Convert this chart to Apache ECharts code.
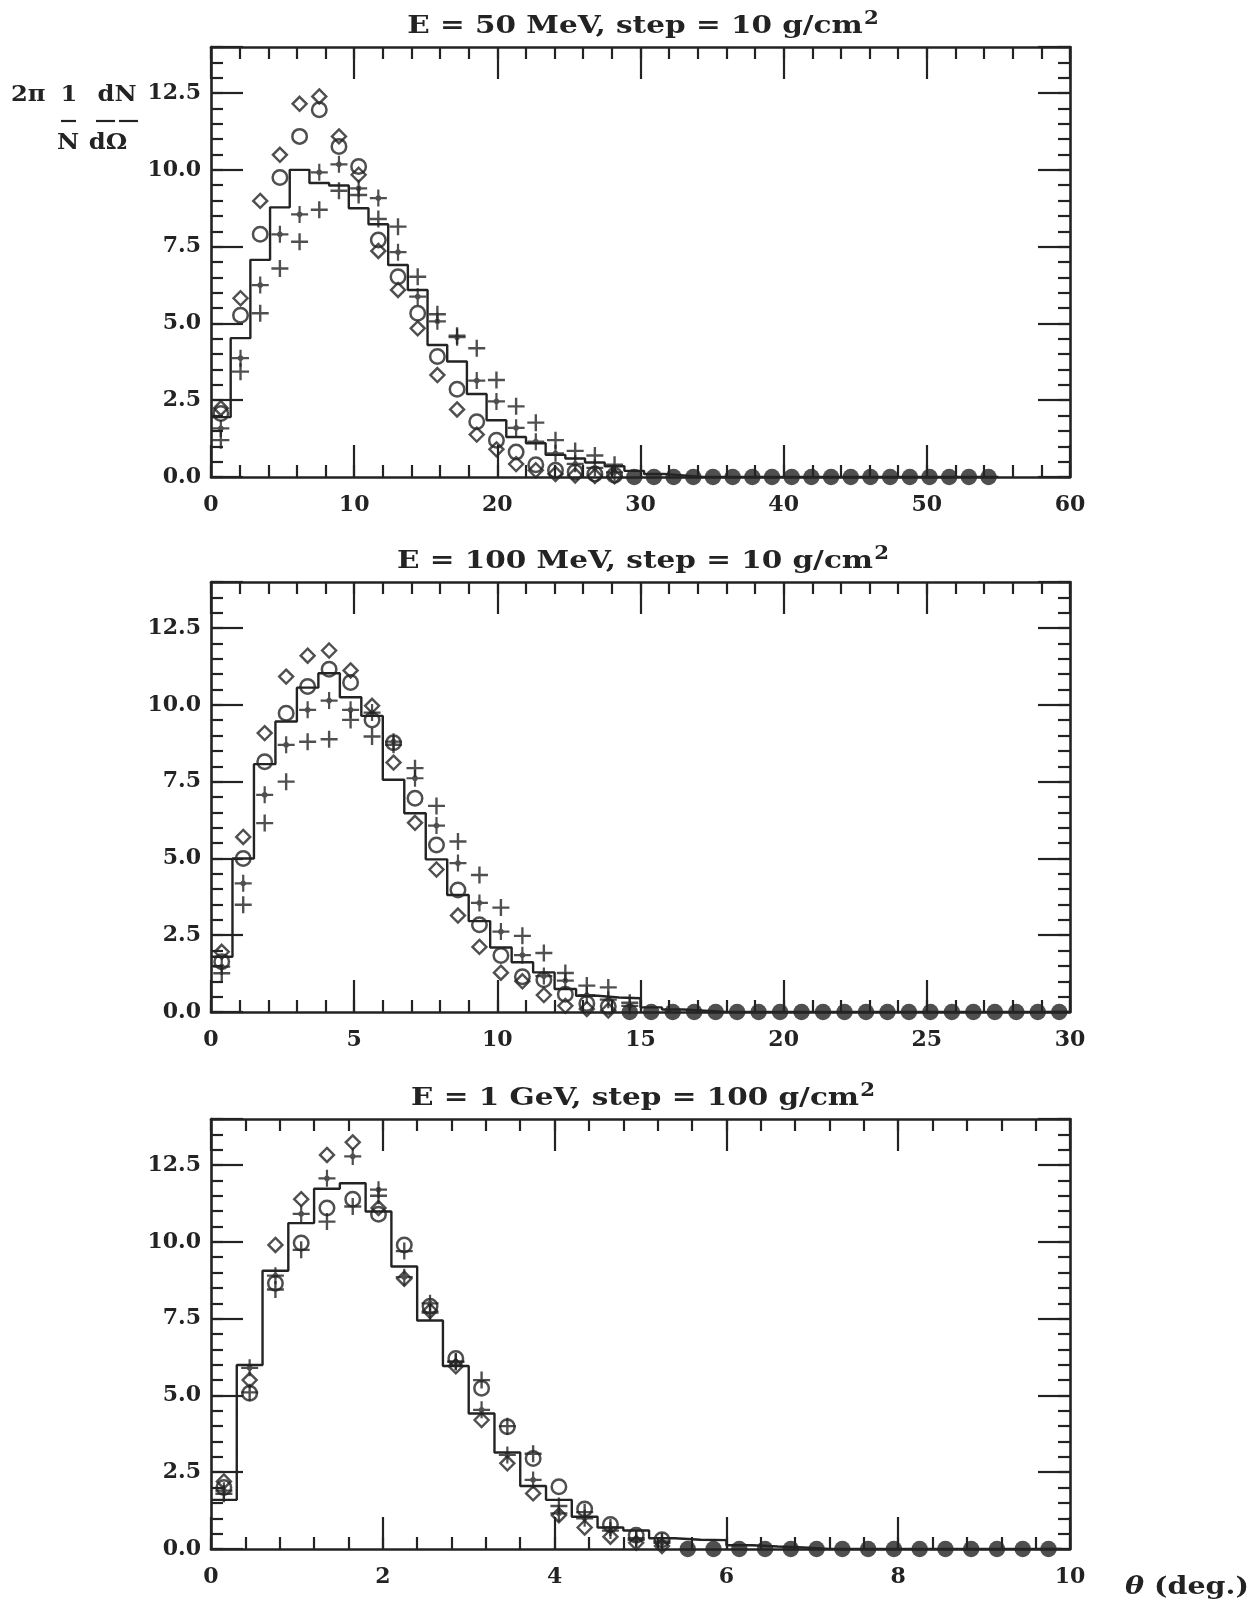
<!DOCTYPE html>
<html>
<head>
<meta charset="utf-8">
<script src="https://cdn.jsdelivr.net/npm/echarts@6/dist/echarts.min.js"></script>
<style>
  html, body { margin: 0; padding: 0; background: #ffffff; }
  #chart { width: 1257px; height: 1605px; }
</style>
</head>
<body>
<div id="chart"></div>
<script>
// Angular distributions 2π (1/N) dN/dΩ versus θ for three beam energies.
// Each panel: histogram (step line) plus four sets of points per angular bin.

const titleText = [
  'E = 50 MeV, step = 10 g/cm',
  'E = 100 MeV, step = 10 g/cm',
  'E = 1 GeV, step = 100 g/cm'
];
const yTickValues = [0, 2.5, 5, 7.5, 10, 12.5];

// ---- E = 50 MeV : bins of 1.375 deg ----
const binWidth50 = 1.375;
const hist50 = [1.95, 4.52, 7.07, 8.78, 10.0, 9.57, 9.49, 8.75, 8.23, 6.90, 6.09, 4.30, 3.76, 2.70, 1.85, 1.30, 1.10, 0.72, 0.60, 0.47,
                0.35, 0.20, 0.10, 0.05, 0, 0, 0, 0, 0, 0, 0, 0, 0, 0, 0, 0, 0, 0, 0, 0];
const circ50 = [2.07, 5.27, 7.90, 9.75, 11.09, 11.96, 10.76, 10.11, 7.72, 6.52, 5.33, 3.92, 2.86, 1.80, 1.20, 0.81, 0.40, 0.22, 0.16, 0.10, 0.06];
const diam50 = [2.24, 5.82, 8.99, 10.49, 12.15, 12.39, 11.09, 9.84, 7.36, 6.09, 4.84, 3.32, 2.20, 1.38, 0.90, 0.42, 0.22, 0.10, 0.05, 0.03, 0.02];
const star50 = [1.58, 3.87, 6.25, 7.90, 8.55, 9.92, 10.18, 9.40, 9.08, 7.32, 5.87, 5.07, 4.55, 3.14, 2.46, 1.60, 1.15, 0.77, 0.43, 0.30, 0.15];
const plus50 = [1.20, 3.43, 5.33, 6.79, 7.66, 8.70, 9.32, 9.18, 8.40, 8.15, 6.52, 5.30, 4.60, 4.19, 3.16, 2.30, 1.77, 1.20, 0.85, 0.70, 0.40];
const tailFrom50 = 21;   // first bin (0-based) where every set sits at zero
const tail50 = [0, 0, 0, 0, 0, 0, 0, 0, 0, 0, 0, 0, 0, 0, 0, 0, 0, 0, 0];

// ---- E = 100 MeV : bins of 0.75 deg ----
const binWidth100 = 0.75;
const hist100 = [1.80, 5.00, 8.07, 9.46, 10.56, 11.03, 10.25, 9.64, 7.56, 6.47, 4.97, 3.81, 2.96, 2.10, 1.62, 1.29, 0.75, 0.53, 0.47, 0.45,
                 0.15, 0.08, 0.04, 0, 0, 0, 0, 0, 0, 0, 0, 0, 0, 0, 0, 0, 0, 0, 0, 0];
const circ100 = [1.64, 5.00, 8.15, 9.73, 10.60, 11.16, 10.73, 9.51, 8.77, 6.96, 5.44, 3.97, 2.84, 1.84, 1.15, 1.05, 0.58, 0.28, 0.18];
const diam100 = [1.96, 5.70, 9.08, 10.92, 11.60, 11.77, 11.12, 9.97, 8.12, 6.16, 4.64, 3.14, 2.12, 1.28, 1.00, 0.55, 0.20, 0.10, 0.05];
const star100 = [1.48, 4.19, 7.07, 8.70, 9.84, 10.14, 9.84, 9.75, 8.80, 7.61, 6.07, 4.85, 3.55, 2.62, 1.85, 1.17, 1.02, 0.55, 0.40, 0.20];
const plus100 = [1.26, 3.49, 6.15, 7.50, 8.80, 8.88, 9.51, 8.97, 8.70, 7.94, 6.71, 5.55, 4.46, 3.40, 2.48, 1.92, 1.27, 0.86, 0.80, 0.30];
const tailFrom100 = 19;
const tail100 = [0, 0, 0, 0, 0, 0, 0, 0, 0, 0, 0, 0, 0, 0, 0, 0, 0, 0, 0, 0, 0];

// ---- E = 1 GeV : bins of 0.3 deg ----
const binWidth1000 = 0.3;
const hist1000 = [1.60, 5.99, 9.06, 10.61, 11.73, 11.91, 10.99, 9.20, 7.44, 5.96, 4.41, 3.14, 2.05, 1.60, 1.05, 0.70, 0.60, 0.35, 0.30, 0.29,
                  0.12, 0.08, 0.05, 0, 0, 0, 0, 0, 0, 0, 0, 0, 0];
const circ1000 = [2.00, 5.07, 8.65, 9.96, 11.10, 11.39, 10.90, 9.90, 7.90, 6.20, 5.23, 3.98, 2.95, 2.03, 1.30, 0.80, 0.45, 0.30];
const diam1000 = [2.20, 5.50, 9.90, 11.39, 12.83, 13.24, 11.10, 8.80, 7.75, 5.95, 4.20, 2.79, 1.81, 1.10, 0.70, 0.40, 0.20, 0.10];
const star1000 = [1.90, 5.90, 8.90, 10.91, 12.07, 12.78, 11.70, 8.85, 8.00, 6.10, 4.53, 3.06, 2.25, 1.16, 1.00, 0.60, 0.30, 0.20];
const plus1000 = [1.80, 5.10, 8.45, 9.74, 10.66, 11.15, 11.50, 9.70, 7.70, 6.10, 5.50, 4.00, 3.10, 1.40, 1.20, 0.70, 0.35, 0.25];
const tailFrom1000 = 18;
const tail1000 = [0, 0, 0, 0, 0, 0, 0, 0, 0, 0, 0, 0, 0, 0, 0];

// ---------------------------------------------------------------------------
const INK = '#232323';
const FONT = '"DejaVu Serif", "Liberation Serif", serif';

const PLUS_PATH = 'path://M-0.14,-1 L0.14,-1 L0.14,-0.14 L1,-0.14 L1,0.14 L0.14,0.14 L0.14,1 L-0.14,1 L-0.14,0.14 L-1,0.14 L-1,-0.14 L-0.14,-0.14 Z';
const STAR_PATH = 'path://M-0.13,-1 L0.13,-1 L0.13,-0.34 L0.34,-0.13 L1,-0.13 L1,0.13 L0.34,0.13 L0.13,0.34 L0.13,1 L-0.13,1 L-0.13,0.34 L-0.34,0.13 L-1,0.13 L-1,-0.13 L-0.34,-0.13 L-0.13,-0.34 Z';

const panels = [
  { title: titleText[0], xMax: 60, xMajor: 10, xMinor: 2, bin: binWidth50,
    hist: hist50, circ: circ50, diam: diam50, star: star50, plus: plus50, tailFrom: tailFrom50, tail: tail50, top: 47 },
  { title: titleText[1], xMax: 30, xMajor: 5, xMinor: 1, bin: binWidth100,
    hist: hist100, circ: circ100, diam: diam100, star: star100, plus: plus100, tailFrom: tailFrom100, tail: tail100, top: 582 },
  { title: titleText[2], xMax: 10, xMajor: 2, xMinor: 0.4, bin: binWidth1000,
    hist: hist1000, circ: circ1000, diam: diam1000, star: star1000, plus: plus1000, tailFrom: tailFrom1000, tail: tail1000, top: 1119 }
];

const GRID_LEFT = 211, GRID_WIDTH = 859, GRID_HEIGHT = 430;

const grids = [], xAxes = [], yAxes = [], series = [], graphics = [];

function axisCommon(major) {
  return {
    type: 'value',
    axisLine: { show: major, onZero: false, lineStyle: { color: INK, width: 2.6 } },
    axisTick: { show: true, inside: true, length: major ? 32 : 12, lineStyle: { color: INK, width: 2.2 } },
    splitLine: { show: false },
    minorTick: { show: false },
    axisPointer: { show: false },
    silent: true
  };
}

const labelStyle = { color: INK, fontFamily: FONT, fontSize: 22, fontWeight: 'bold' };

panels.forEach((p, gi) => {
  grids.push({ left: GRID_LEFT, top: p.top, width: GRID_WIDTH, height: GRID_HEIGHT, containLabel: false });

  // bottom (labelled) and top axes, each with a long-tick and a short-tick layer
  [['bottom', true], ['bottom', false], ['top', true], ['top', false]].forEach(([pos, major]) => {
    xAxes.push(Object.assign(axisCommon(major), {
      gridIndex: gi, position: pos, min: 0, max: p.xMax,
      interval: major ? p.xMajor : p.xMinor,
      axisLabel: (pos === 'bottom' && major)
        ? Object.assign({ show: true, margin: 17, formatter: v => String(v) }, labelStyle)
        : { show: false }
    }));
  });
  [['left', true], ['left', false], ['right', true], ['right', false]].forEach(([pos, major]) => {
    yAxes.push(Object.assign(axisCommon(major), {
      gridIndex: gi, position: pos, min: 0, max: 14,
      interval: major ? 2.5 : 0.5,
      axisLabel: (pos === 'left' && major)
        ? Object.assign({ show: true, margin: 10,
            formatter: v => (yTickValues.indexOf(v) >= 0 ? v.toFixed(1) : '') }, labelStyle)
        : { show: false }
    }));
  });

  const xi = gi * 4, yi = gi * 4;
  const centred = arr => arr.map((v, i) => [(i + 0.5) * p.bin, v]);

  // histogram drawn as a step line through the bin edges
  const histPts = p.hist.map((v, i) => [i * p.bin, v]);
  histPts.push([p.hist.length * p.bin, p.hist[p.hist.length - 1]]);
  series.push({
    type: 'line', xAxisIndex: xi, yAxisIndex: yi, data: histPts, step: 'end',
    symbol: 'none', lineStyle: { color: INK, width: 2.4 }, silent: true, z: 2
  });

  // bins where all sets coincide at zero
  series.push({
    type: 'scatter', xAxisIndex: xi, yAxisIndex: yi,
    data: p.tail.map((v, i) => [(p.tailFrom + i + 0.5) * p.bin, v]),
    symbol: 'circle', symbolSize: 16.5, itemStyle: { color: INK }, silent: true, z: 3
  });

  series.push({
    type: 'scatter', xAxisIndex: xi, yAxisIndex: yi, data: centred(p.circ),
    symbol: 'circle', symbolSize: 14.5,
    itemStyle: { color: 'rgba(255,255,255,0)', borderColor: INK, borderWidth: 2.5 }, silent: true, z: 4
  });
  series.push({
    type: 'scatter', xAxisIndex: xi, yAxisIndex: yi, data: centred(p.diam),
    symbol: 'diamond', symbolSize: [14, 14],
    itemStyle: { color: 'rgba(255,255,255,0)', borderColor: INK, borderWidth: 2.4 }, silent: true, z: 4
  });
  series.push({
    type: 'scatter', xAxisIndex: xi, yAxisIndex: yi, data: centred(p.star),
    symbol: STAR_PATH, symbolSize: 17, itemStyle: { color: INK }, silent: true, z: 5
  });
  series.push({
    type: 'scatter', xAxisIndex: xi, yAxisIndex: yi, data: centred(p.plus),
    symbol: PLUS_PATH, symbolSize: 17, itemStyle: { color: INK }, silent: true, z: 5
  });

  // panel title with superscript exponent
  graphics.push({
    type: 'text', x: 643, y: p.top - 21, scaleX: 1.18, silent: true,
    style: {
      text: p.title + '{s|2}',
      fontFamily: FONT, fontSize: 25, fontWeight: 'bold', fill: INK,
      textAlign: 'center', textVerticalAlign: 'middle', align: 'center', verticalAlign: 'middle',
      rich: { s: { fontFamily: FONT, fontSize: 18, fontWeight: 'bold', fill: INK, padding: [0, 0, 13, 1] } }
    }
  });
});

// y-axis quantity: 2π (1/N) (dN/dΩ)
function label(text, x, y, align) {
  return {
    type: 'text', x: x, y: y, scaleX: 1.1, silent: true,
    style: { text: text, fontFamily: FONT, fontSize: 22, fontWeight: 'bold', fill: INK,
             textAlign: align, align: align, textVerticalAlign: 'middle', verticalAlign: 'middle' }
  };
}
function bar(x1, x2, y) {
  return { type: 'line', silent: true, shape: { x1: x1, y1: y, x2: x2, y2: y },
           style: { stroke: INK, lineWidth: 2.2 } };
}
graphics.push(label('2π', 11, 95, 'left'));
graphics.push(label('1', 69, 95, 'center'));
graphics.push(label('dN', 117, 95, 'center'));
graphics.push(label('N', 68, 143, 'center'));
graphics.push(label('dΩ', 108, 143, 'center'));
graphics.push(bar(61, 76, 121));
graphics.push(bar(96, 115, 121));
graphics.push(bar(119, 138, 121));

// x-axis quantity
graphics.push({
  type: 'text', x: 1187, y: 1587, scaleX: 1.14, silent: true,
  style: {
    text: '{t|θ} (deg.)', fontFamily: FONT, fontSize: 25, fontWeight: 'bold', fill: INK,
    textAlign: 'center', align: 'center', textVerticalAlign: 'middle', verticalAlign: 'middle',
    rich: { t: { fontFamily: FONT, fontSize: 25, fontWeight: 'bold', fontStyle: 'italic', fill: INK } }
  }
});

const chart = echarts.init(document.getElementById('chart'), null, { renderer: 'canvas' });
chart.setOption({
  backgroundColor: '#ffffff',
  animation: false,
  grid: grids,
  xAxis: xAxes,
  yAxis: yAxes,
  series: series,
  graphic: { elements: graphics }
});
</script>
</body>
</html>
